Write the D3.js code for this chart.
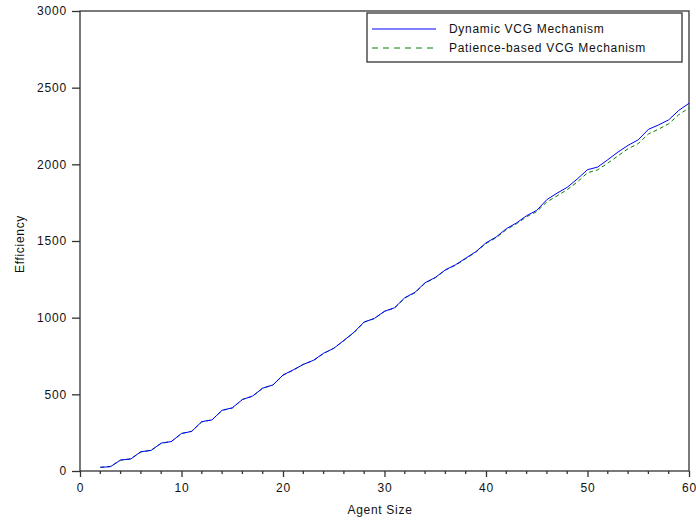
<!DOCTYPE html>
<html><head><meta charset="utf-8">
<script src="https://cdn.jsdelivr.net/npm/d3@7"></script>
<style>body{margin:0;background:#fff}svg{display:block}text{font-family:"Liberation Sans",Arial,sans-serif;fill:#111}</style>
</head><body>
<svg id="c" width="696" height="523"></svg>
<script>
const agentSize = d3.range(2, 61);
const dynamicVCG = [24,28,72,78,126,134,182,192,245,258,322,333,396,412,466,489,540,561,626,659,
  695,722,768,800,852,905,972,995,1042,1065,1130,1165,1228,1262,1312,1345,1388,1430,1488,1526,
  1580,1618,1665,1700,1770,1812,1850,1905,1965,1982,2030,2080,2124,2160,2228,2257,2290,2352,2398];
const patienceVCG = [24,30,70,80,124,135,180,193,244,260,320,334,395,410,467,487,541,560,624,657,
  696,720,766,801,850,903,970,994,1040,1063,1128,1162,1225,1260,1310,1342,1384,1427,1484,1521,
  1574,1612,1658,1692,1755,1794,1835,1885,1945,1964,2008,2055,2102,2135,2198,2229,2265,2324,2368];
const xTicks = [0,10,20,30,40,50,60];
const yTicks = [0,500,1000,1500,2000,2500,3000];
const seriesNames = ["Dynamic VCG Mechanism","Patience-based VCG Mechanism"];
const seriesColors = ["#0000ff","#008000"];

const svg = d3.select("#c");
const x = d3.scaleLinear().domain([0,60]).range([80,689]);
const y = d3.scaleLinear().domain([0,3000]).range([471,11]);
const axisColor = "#333";
const fs = "12px";

// frame
svg.append("rect").attr("x",80).attr("y",11).attr("width",609).attr("height",460)
  .attr("fill","none").attr("stroke",axisColor).attr("stroke-width",1.3);

// x axis
const gx = svg.append("g").attr("transform","translate(0,471)")
  .call(d3.axisBottom(x).tickValues(xTicks).tickSize(6).tickPadding(6).tickFormat(d3.format("d")));
gx.select(".domain").remove();
gx.selectAll("line").attr("stroke",axisColor).attr("stroke-width",1.3);
gx.selectAll("text").attr("font-size",fs).attr("font-family","Liberation Sans").style("letter-spacing","0.8px").attr("fill","#111");
const minor = d3.range(0,61,2).filter(v=>v%10!==0);
svg.append("g").selectAll("line").data(minor).join("line")
  .attr("x1",d=>x(d)).attr("x2",d=>x(d)).attr("y1",471).attr("y2",474)
  .attr("stroke",axisColor).attr("stroke-width",1.3);

// y axis
const gy = svg.append("g").attr("transform","translate(80,0)")
  .call(d3.axisLeft(y).tickValues(yTicks).tickSize(8).tickPadding(5).tickFormat(d3.format("d")));
gy.select(".domain").remove();
gy.selectAll("line").attr("stroke",axisColor).attr("stroke-width",1.3);
gy.selectAll("text").attr("font-size",fs).attr("font-family","Liberation Sans").style("letter-spacing","0.8px").attr("fill","#111");

// lines
const line = d3.line().x((d,i)=>x(agentSize[i])).y(d=>y(d));
svg.append("path").datum(patienceVCG).attr("d",line).attr("fill","none")
  .attr("stroke",seriesColors[1]).attr("stroke-width",1).attr("stroke-dasharray","4,3");
svg.append("path").datum(dynamicVCG).attr("d",line).attr("fill","none")
  .attr("stroke",seriesColors[0]).attr("stroke-width",1);

// axis titles
svg.append("text").attr("x",380).attr("y",514).attr("text-anchor","middle")
  .attr("font-size","12px").style("letter-spacing","0.7px").text("Agent Size");
svg.append("text").attr("transform","translate(24,244) rotate(-90)").attr("text-anchor","middle")
  .attr("font-size","12px").style("letter-spacing","0.7px").text("Efficiency");

// legend
const lg = svg.append("g");
lg.append("rect").attr("x",367).attr("y",13).attr("width",315).attr("height",49)
  .attr("fill","#fff").attr("stroke",axisColor).attr("stroke-width",1.3);
seriesNames.forEach((n,i)=>{
  const yy = 29 + i*19;
  lg.append("line").attr("x1",372).attr("x2",436).attr("y1",yy).attr("y2",yy)
    .attr("stroke",seriesColors[i]).attr("stroke-width",1)
    .attr("stroke-dasharray", i===1 ? "6,5" : null);
  lg.append("text").attr("x",449).attr("y",yy+4).attr("font-size","12px")
    .style("letter-spacing","0.7px").text(n);
});
</script>
</body></html>
